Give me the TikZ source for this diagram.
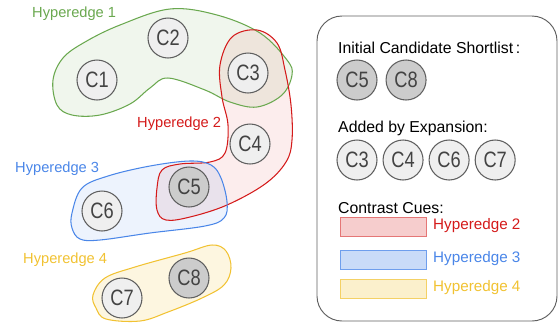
\documentclass[tikz,border=0pt]{standalone}
\usepackage{fontspec}
\setmainfont{Liberation Sans}
\newfontfamily\candfont[FakeStretch=0.82]{Liberation Sans}
\usepackage{tikz}
\usetikzlibrary{positioning}
\definecolor{hgreen}{HTML}{6AA84F}
\definecolor{hred}{HTML}{D41A1A}
\definecolor{hblue}{HTML}{4A86E8}
\definecolor{hyellow}{HTML}{F1C232}
\definecolor{candline}{HTML}{5F5F5F}
\definecolor{candfill}{HTML}{EFEFEF}
\definecolor{seedfill}{HTML}{CCCCCC}
\definecolor{candtext}{HTML}{434343}
\tikzset{
    cand/.style={circle, draw=candline, line width=0.9pt, fill=candfill, minimum size=1.2cm, inner sep=0pt, text=candtext, font=\candfont\fontsize{19}{19}\selectfont}, % one candidate
    seed/.style={cand, fill=seedfill}, % candidate of the first shortlist
    hedge/.style={line width=0.9pt, fill opacity=0.1}, % a hyperedge blob
    hlabel/.style={inner sep=0pt, anchor=west, font=\fontsize{12.5}{14}\selectfont},
    ltext/.style={inner sep=0pt, anchor=west, font=\fontsize{13.5}{16}\selectfont},
}
\def\edgeone{plot[smooth cycle, tension=0.6] coordinates {(53,80) (63,58) (85,42) (120,25) (170,9) (217,15) (260,33) (287,60) (292,75) (282,95) (257,107) (230,102) (205,90) (168,78) (150,88) (130,104) (100,115) (72,115) (57,105)}}
\def\edgetwo{plot[smooth cycle, tension=0.6] coordinates {(257,30) (277,43) (285,70) (291,105) (292,140) (286,162) (265,184) (227,205) (190,217) (166,220) (157,210) (157,188) (162,170) (180,164) (210,162) (225,153) (228,125) (222,97) (220,65) (232,37)}}
\def\edgethree{plot[smooth cycle, tension=0.6] coordinates {(72,213) (82,188) (108,176) (150,166) (190,161) (211,165) (221,178) (227,202) (224,218) (205,226) (150,233) (100,240) (80,239) (72,228)}}
\def\edgefour{plot[smooth cycle, tension=0.6] coordinates {(93,295) (105,278) (135,267) (185,253) (212,245) (226,251) (231,268) (224,285) (202,298) (168,312) (140,321) (106,319) (96,308)}}

\begin{document}
\begin{tikzpicture}[x=0.03cm, y=-0.03cm]
    \useasboundingbox (0,0) rectangle (558,322);
    % hyperedges
    \fill[hgreen, fill opacity=0.1] \edgeone;
    \fill[hred, fill opacity=0.08] \edgetwo;
    \fill[hblue, fill opacity=0.1] \edgethree;
    \fill[hyellow, fill opacity=0.15] \edgefour;
    \draw[hgreen, line width=0.9pt] \edgeone;
    \draw[hred, line width=0.9pt] \edgetwo;
    \draw[hblue, line width=0.9pt] \edgethree;
    \draw[hyellow, line width=0.9pt] \edgefour;
    \node[hlabel, text=hgreen] (h1) at (32,14) {Hyperedge 1};
    \node[hlabel, text=hred] (h2) at (137,124) {Hyperedge 2};
    \node[hlabel, text=hblue] (h3) at (15,169) {Hyperedge 3};
    \node[hlabel, text=hyellow] (h4) at (23,260) {Hyperedge 4};
    % candidates
    \node[cand] (c1) at (97,80) {C1};
    \node[cand] (c2) at (168,38) {C2};
    \node[cand] (c3) at (248,73) {C3};
    \node[cand] (c4) at (250,144) {C4};
    \node[seed] (c5) at (189,187) {C5};
    \node[cand] (c6) at (102,211) {C6};
    \node[cand] (c7) at (122,298) {C7};
    \node[seed] (c8) at (189,278) {C8};
    % legend
    \draw[candline, line width=0.8pt, rounded corners=0.75cm] (317,16) rectangle (557,321);
    \node[ltext] (init) at (338,48) {Initial Candidate Shortlist\,:};
    \node[seed] (l5) at (357,80) {C5};
    \node[seed, right=0.24cm of l5] (l8) {C8};
    \node[ltext] (added) at (338,128) {Added by Expansion:};
    \node[cand] (l3) at (357,160) {C3};
    \node[cand, right=0.15cm of l3] (l4) {C4};
    \node[cand, right=0.15cm of l4] (l6) {C6};
    \node[cand, right=0.15cm of l6] (l7) {C7};
    \node[ltext] (cues) at (338,208) {Contrast Cues:};
    \draw[draw=hred!60, fill=hred!22, line width=0.8pt] (340,217) rectangle (426,236);
    \draw[draw=hblue!80, fill=hblue!30, line width=0.8pt] (340,250) rectangle (426,269);
    \draw[draw=hyellow!75, fill=hyellow!25, line width=0.8pt] (340,279) rectangle (426,298);
    \node[hlabel, text=hred, font=\fontsize{13}{15}\selectfont] (k2) at (433,226) {Hyperedge 2};
    \node[hlabel, text=hblue, font=\fontsize{13}{15}\selectfont] (k3) at (433,259) {Hyperedge 3};
    \node[hlabel, text=hyellow, font=\fontsize{13}{15}\selectfont] (k4) at (433,288) {Hyperedge 4};
\end{tikzpicture}
\end{document}
